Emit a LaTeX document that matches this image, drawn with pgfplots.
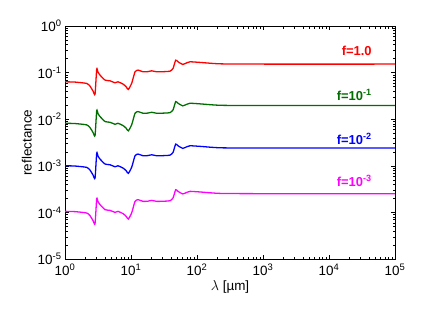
\documentclass[border=0pt]{standalone}
\usepackage{pgfplots}
\pgfplotsset{compat=1.18}
\usepackage{fontspec}
\setmainfont{Liberation Sans}
\definecolor{cred}{RGB}{255,0,0}
\definecolor{cgreen}{RGB}{0,110,0}
\definecolor{cblue}{RGB}{0,0,255}
\definecolor{cmag}{RGB}{255,0,255}
\begin{document}
\begin{tikzpicture}[x=1bp,y=1bp]
\begin{axis}[
  scale only axis,
  width=330bp, height=233bp,
  xmode=log, ymode=log,
  xmin=1, xmax=1e5, ymin=1e-5, ymax=1,
  xtick={1,10,100,1000,10000,100000},
  xticklabels={10\textsuperscript{0},10\textsuperscript{1},10\textsuperscript{2},10\textsuperscript{3},10\textsuperscript{4},10\textsuperscript{5}},
  ytick={1e-5,1e-4,1e-3,1e-2,1e-1,1},
  yticklabels={10\textsuperscript{-5},10\textsuperscript{-4},10\textsuperscript{-3},10\textsuperscript{-2},10\textsuperscript{-1},10\textsuperscript{0}},
  tick label style={font=\fontsize{13.5}{15}\selectfont},
  xticklabel style={yshift=-1bp},
  label style={font=\fontsize{13.5}{15}\selectfont},
  xlabel={$\lambda$ [µm]},
  ylabel={reflectance},
  xlabel style={yshift=2bp},
  ylabel style={yshift=-1bp},
  axis line style={line width=0.8pt},
  major tick length=4bp, minor tick length=2.5bp,
  every tick/.style={black,line width=0.5pt},
  clip=false,
  every axis plot/.append style={line width=1.3pt, no marks, smooth, tension=0.35},
]
\path (rel axis cs:-0.197,-0.292) rectangle (rel axis cs:1.124,1.112);
\addplot[cred] coordinates {
(1,0.0638) (1.42,0.0629) (2.13,0.0589) (2.39,0.0516) (2.66,0.0403) (2.85,0.0347)
(3.02,0.119) (3.16,0.103) (3.39,0.0888) (4.04,0.0694) (4.81,0.0670) (5.72,0.0607)
(6.35,0.0638) (7.57,0.0569) (8.40,0.0503) (9.10,0.0438) (10.25,0.0598) (11.5,0.1045)
(12.8,0.1137) (15.2,0.1045) (18.1,0.1056) (20.6,0.1098) (24.5,0.1045) (32.7,0.1056)
(39.0,0.108) (43.3,0.1236) (47.5,0.186) (51.5,0.1714) (60.7,0.1507) (69.8,0.163)
(78.3,0.1714) (111,0.1663) (223,0.155) (901,0.153) (100000,0.153)
};
\addplot[cgreen] coordinates {
(1,0.00823) (1.42,0.00811) (2.13,0.00760) (2.39,0.00666) (2.66,0.00520) (2.85,0.00448)
(3.02,0.01535) (3.16,0.01329) (3.39,0.01146) (4.04,0.00895) (4.81,0.00864) (5.72,0.00783)
(6.35,0.00823) (7.57,0.00734) (8.40,0.00649) (9.10,0.00565) (10.25,0.00771) (11.5,0.01348)
(12.8,0.01467) (15.2,0.01348) (18.1,0.01362) (20.6,0.01416) (24.5,0.01348) (32.7,0.01362)
(39.0,0.01393) (43.3,0.01594) (47.5,0.02399) (51.5,0.02211) (60.7,0.01944) (69.8,0.02103)
(78.3,0.02211) (111,0.02145) (223,0.02000) (901,0.01974) (100000,0.01974)
};
\addplot[cblue] coordinates {
(1,0.001008) (1.42,0.000994) (2.13,0.000931) (2.39,0.000815) (2.66,0.000637) (2.85,0.000548)
(3.02,0.00188) (3.16,0.001627) (3.39,0.001403) (4.04,0.001097) (4.81,0.001059) (5.72,0.000959)
(6.35,0.001008) (7.57,0.000899) (8.40,0.000795) (9.10,0.000692) (10.25,0.000945) (11.5,0.001651)
(12.8,0.001796) (15.2,0.001651) (18.1,0.001668) (20.6,0.001735) (24.5,0.001651) (32.7,0.001668)
(39.0,0.001706) (43.3,0.001953) (47.5,0.002939) (51.5,0.002708) (60.7,0.002381) (69.8,0.002575)
(78.3,0.002708) (111,0.002628) (223,0.002449) (901,0.002417) (100000,0.002417)
};
\addplot[cmag] coordinates {
(1,1.059e-4) (1.42,1.044e-4) (2.13,9.78e-5) (2.39,8.57e-5) (2.66,6.69e-5) (2.85,5.76e-5)
(3.02,1.975e-4) (3.16,1.710e-4) (3.39,1.474e-4) (4.04,1.152e-4) (4.81,1.112e-4) (5.72,1.008e-4)
(6.35,1.059e-4) (7.57,9.45e-5) (8.40,8.35e-5) (9.10,7.27e-5) (10.25,9.93e-5) (11.5,1.735e-4)
(12.8,1.887e-4) (15.2,1.735e-4) (18.1,1.753e-4) (20.6,1.823e-4) (24.5,1.735e-4) (32.7,1.753e-4)
(39.0,1.793e-4) (43.3,2.052e-4) (47.5,3.088e-4) (51.5,2.845e-4) (60.7,2.502e-4) (69.8,2.706e-4)
(78.3,2.845e-4) (111,2.761e-4) (223,2.573e-4) (901,2.540e-4) (100000,2.540e-4)
};
\node[anchor=base east,text=cred,font=\fontsize{13}{15}\selectfont\bfseries] at (axis cs:5e4,0.239) {f=1.0};
\node[anchor=base east,text=cgreen,font=\fontsize{13}{15}\selectfont\bfseries] at (axis cs:5e4,0.0258) {f=10\textsuperscript{-1}};
\node[anchor=base east,text=cblue,font=\fontsize{13}{15}\selectfont\bfseries] at (axis cs:5e4,0.00294) {f=10\textsuperscript{-2}};
\node[anchor=base east,text=cmag,font=\fontsize{13}{15}\selectfont\bfseries] at (axis cs:5e4,3.7e-4) {f=10\textsuperscript{-3}};
\end{axis}
\end{tikzpicture}
\end{document}
